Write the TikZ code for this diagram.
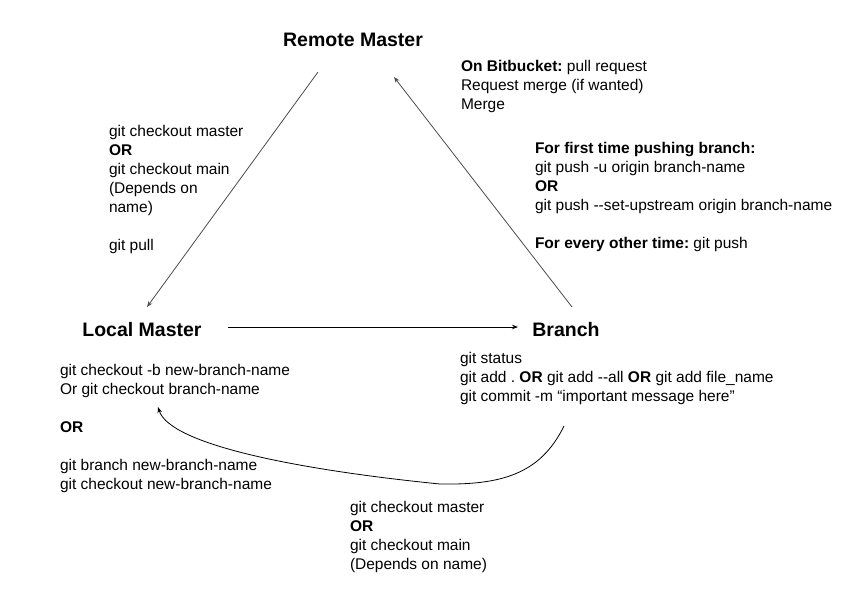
\documentclass[tikz,border=0pt]{standalone}
\usepackage{fontspec}
\setmainfont{Liberation Sans}
\usetikzlibrary{positioning, arrows.meta}
\frenchspacing

\begin{document}
\begin{tikzpicture}[
        x = 1pt, y = -1pt,
        node distance = 0pt,
        every node/.style = {inner sep=0pt, outer sep=0pt, font=\fontsize{15.5}{19}\selectfont},
        title/.style = {font=\fontsize{19.5}{22}\selectfont\bfseries, anchor=center},
        notes/.style = {align=left, anchor=north west},
        arr/.style = {-{Stealth[length=6pt, width=4.5pt]}, line width=0.8pt},
        greyarr/.style = {arr, draw=black!70}
    ]
    \useasboundingbox (0,0) rectangle (868,598);
%
    \node[title] (remote) at (353,40)  {Remote Master};
    \node[title] (local)  at (142,330) {Local Master};
    \node[title] (branch) at (566,330) {Branch};
%
    \node[notes] (pull)     at (109,125) {git checkout master\\ \textbf{OR}\\ git checkout main\\ (Depends on\\ name)\\[19pt] git pull};
    \node[notes] (merge)    at (461,60)  {\textbf{On Bitbucket:} pull request\\ Request merge (if wanted)\\ Merge};
    \node[notes] (push)     at (535,142) {\textbf{For first time pushing branch:}\\ git push -u origin branch-name\\ \textbf{OR}\\ git push -{}-set-upstream origin branch-name\\[19pt] \textbf{For every other time:} git push};
    \node[notes] (create)   at (60,364)  {git checkout -b new-branch-name\\ Or git checkout branch-name\\[19pt] \textbf{OR}\\[19pt] git branch new-branch-name\\ git checkout new-branch-name};
    \node[notes] (commit)   at (460,352) {git status\\ git add . \textbf{OR} git add -{}-all \textbf{OR} git add file\_name\\ git commit -m “important message here”};
    \node[notes] (checkout) at (350,501) {git checkout master\\ \textbf{OR}\\ git checkout main\\ (Depends on name)};
%
    \coordinate (pull-a) at (318,72);
    \coordinate (pull-b) at (147,307);
    \coordinate (push-a) at (572,307);
    \coordinate (push-b) at (394,77);
    \coordinate (new-a)  at (228,327);
    \coordinate (new-b)  at (518,327);
    \coordinate (back-a) at (564,426);
    \coordinate (back-m) at (440,484);
    \coordinate (back-b) at (158,407);
%
    \draw[greyarr] (pull-a) -- (pull-b);
    \draw[greyarr] (push-a) -- (push-b);
    \draw[arr] (new-a) -- (new-b);
    \draw[arr] (back-a) .. controls (540,475) and (500,485) .. (back-m)
                        .. controls (300,470) and (170,445) .. (back-b);
\end{tikzpicture}
\end{document}
